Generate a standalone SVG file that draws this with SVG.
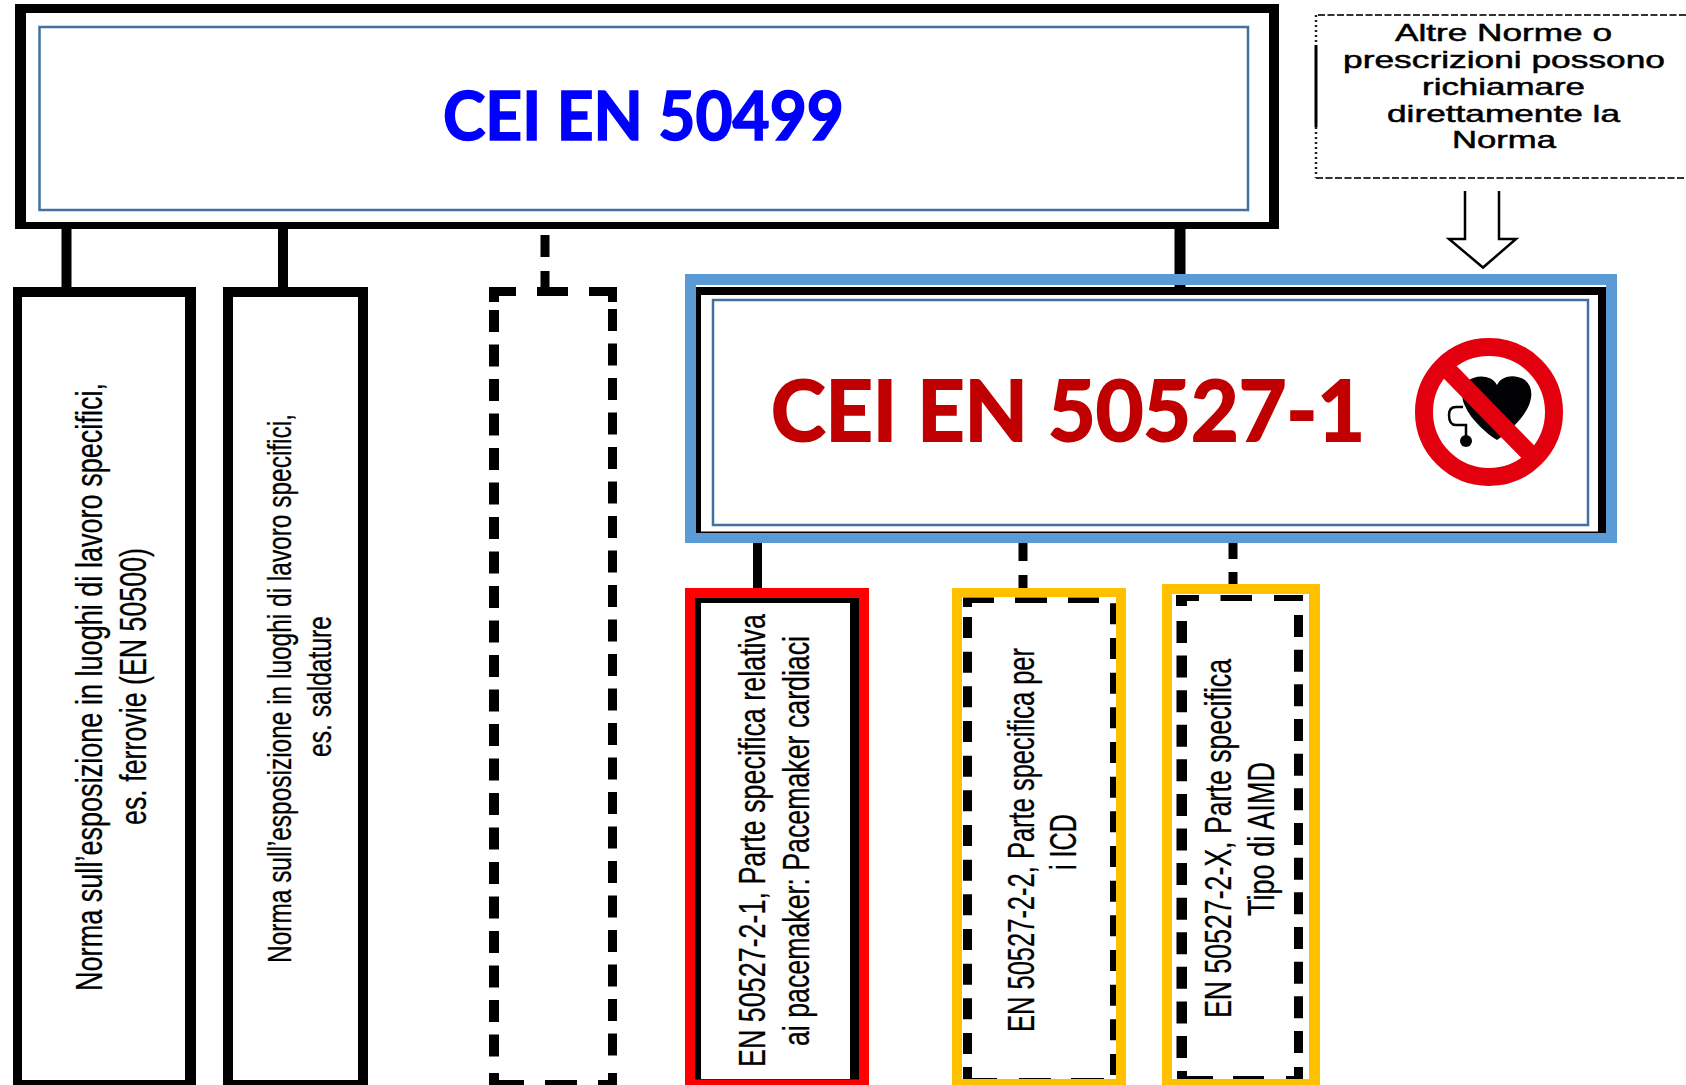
<svg xmlns="http://www.w3.org/2000/svg" width="1686" height="1085" viewBox="0 0 1686 1085">
<style>
.blk{fill:#000}
.wht{fill:#fff}
.inner{fill:none;stroke:#41719c;stroke-width:2.5}
.bar{fill:none;stroke:#000}
.v{stroke-dasharray:22 12.5}
.t{font-family:"Liberation Sans",Arial,sans-serif;font-size:37px;fill:#000;stroke:#000;stroke-width:.3}
.s{font-size:33px}
.h{font-family:Lato,"Open Sans",sans-serif;font-weight:700;stroke-width:1.6}
.n{font-family:"Liberation Sans",Arial,sans-serif;font-size:24px;fill:#000;stroke:#000;stroke-width:.5}
</style>
<rect width="1686" height="1085" fill="#fff"/>
<g id="connectors">
<path class="bar" stroke-width="10" d="M66.500 229V288M283 229V288"/>
<path class="bar" stroke-width="9" d="M545 235V257M545 271V288"/>
<path class="bar" stroke-width="11" d="M1180 229V290"/>
<path class="bar" stroke-width="9" d="M757.500 543V590"/>
<path class="bar" stroke-width="9" d="M1023 543V561M1023 575V590M1233 543V559M1233 572V586"/>
</g>
<g id="node-cei-en-50499">
<path class="blk" fill-rule="evenodd" d="M15 4H1279V229H15ZM26 13V222H1269V13Z"/>
<rect class="inner" x="39.500" y="27" width="1208.500" height="183"/>
<text class="h" x="443" y="140" font-size="66" fill="#0000ff" stroke="#0000ff" textLength="401" lengthAdjust="spacingAndGlyphs">CEI EN 50499</text>
</g>
<g id="node-altre-norme">
<path fill="none" stroke="#333" stroke-width="2" stroke-dasharray="7 2.500" d="M1686 15H1316M1316 178H1686"/>
<path fill="none" stroke="#222" stroke-width="2.500" stroke-dasharray="2 3" d="M1316 15V45M1316 127V178"/>
<path fill="none" stroke="#000" stroke-width="3" d="M1316 45V127"/>
<text class="n" x="1395" y="41" textLength="217" lengthAdjust="spacingAndGlyphs">Altre Norme o</text>
<text class="n" x="1343" y="68" textLength="322" lengthAdjust="spacingAndGlyphs">prescrizioni possono</text>
<text class="n" x="1422" y="95" textLength="163" lengthAdjust="spacingAndGlyphs">richiamare</text>
<text class="n" x="1387" y="122" textLength="233" lengthAdjust="spacingAndGlyphs">direttamente la</text>
<text class="n" x="1452" y="148" textLength="104" lengthAdjust="spacingAndGlyphs">Norma</text>
<path fill="#fff" stroke="#000" stroke-width="2.500" d="M1465 191V239H1449L1483 267.500L1516 239H1499V191"/>
</g>
<g id="node-norma-ferrovie">
<path class="blk" fill-rule="evenodd" d="M13 287H196V1085H13ZM22 297V1080H185V297Z"/>
<text class="t" transform="translate(101.500 991) rotate(-90)" textLength="608" lengthAdjust="spacingAndGlyphs">Norma sull’esposizione in luoghi di lavoro specifici,</text>
<text class="t" transform="translate(145.500 825) rotate(-90)" textLength="277" lengthAdjust="spacingAndGlyphs">es. ferrovie (EN 50500)</text>
</g>
<g id="node-norma-saldature">
<path class="blk" fill-rule="evenodd" d="M223 287H368V1085H223ZM233 297V1080H358V297Z"/>
<text class="t s" transform="translate(291 963) rotate(-90)" textLength="549" lengthAdjust="spacingAndGlyphs">Norma sull’esposizione in luoghi di lavoro specifici,</text>
<text class="t s" transform="translate(331 757) rotate(-90)" textLength="141" lengthAdjust="spacingAndGlyphs">es. saldature</text>
</g>
<g id="node-dashed-empty">
<path class="blk" d="M489 287H516V296H499V302H489ZM537 287H568V296H537ZM589 287H617V302H608V296H589ZM489 1073H499V1080H524V1085H489ZM545 1080H577V1085H545ZM598 1080H608V1073H617V1085H598Z"/>
<path class="bar v" stroke-width="10" d="M494 310V1066"/>
<path class="bar v" stroke-width="9" d="M612.500 309V1066"/>
</g>
<g id="node-cei-en-50527-1">
<path fill="#5b9bd5" fill-rule="evenodd" d="M685 274H1617V543H685ZM696 285V533H1606V285Z"/>
<rect class="blk" x="696" y="287" width="910" height="246"/>
<rect class="wht" x="701" y="295" width="897" height="236.500"/>
<rect class="inner" x="713" y="300" width="875" height="225"/>
<text class="h" x="771" y="441" font-size="85" fill="#c00000" stroke="#c00000" style="stroke-width:2" textLength="594" lengthAdjust="spacingAndGlyphs">CEI EN 50527-1</text>
<g id="sign">
<path fill="#020204" d="M1497 385C1492 375 1476 374 1468 381C1461 388 1461 398 1465 406C1471 420 1487 434 1497 440C1508 433 1524 418 1529 405C1533 395 1532 386 1525 380C1515 374 1502 375 1497 385Z"/>
<path fill="none" stroke="#020204" stroke-width="2.500" d="M1463 407H1456Q1449 407 1449 415Q1449 425 1456 425H1466V441"/>
<circle cx="1466" cy="441" r="6" fill="#020204"/>
<circle cx="1489" cy="412" r="65" fill="none" stroke="#e2000f" stroke-width="18"/>
<path fill="none" stroke="#e2000f" stroke-width="18" d="M1446 368L1532 456"/>
</g>
</g>
<g id="node-en-50527-2-1">
<rect x="685" y="588" width="184" height="497" fill="#ff0000"/>
<rect class="blk" x="695" y="598" width="164" height="481.500"/>
<rect class="wht" x="701" y="603" width="149" height="476"/>
<text class="t" transform="translate(765 1067) rotate(-90)" textLength="453" lengthAdjust="spacingAndGlyphs">EN 50527-2-1, Parte specifica relativa</text>
<text class="t" transform="translate(809 1046) rotate(-90)" textLength="410" lengthAdjust="spacingAndGlyphs">ai pacemaker: Pacemaker cardiaci</text>
</g>
<g id="node-en-50527-2-2">
<rect x="952" y="588" width="174" height="497" fill="#ffc000"/>
<rect class="wht" x="962" y="597" width="154" height="482"/>
<path class="blk" d="M963 597.500H994V603H972V607H963ZM1015 597.500H1047V603H1015ZM1068 597.500H1099V603H1068ZM963 1067H972V1078H997V1079H963ZM1019 1078H1051V1079H1019ZM1071 1078H1104V1079H1071Z"/>
<path class="bar" stroke-width="9" stroke-dasharray="21 13.670" d="M967.500 617V1055"/>
<path class="bar" stroke-width="6" stroke-dasharray="21 13.670" d="M1113 603.300V1076"/>
<text class="t" transform="translate(1034 1032) rotate(-90)" textLength="384" lengthAdjust="spacingAndGlyphs">EN 50527-2-2, Parte specifica per</text>
<text class="t" transform="translate(1076 870) rotate(-90)" textLength="56" lengthAdjust="spacingAndGlyphs">i ICD</text>
</g>
<g id="node-en-50527-2-x">
<rect x="1162" y="584" width="158" height="501" fill="#ffc000"/>
<rect class="wht" x="1172" y="594" width="137" height="485"/>
<path class="blk" d="M1176 595H1199V601H1187V606H1176ZM1220.500 595H1252V601H1220.500ZM1274 595H1303V601H1274ZM1177 1071H1187V1076H1213V1079H1177ZM1233 1076H1264V1079H1233ZM1286 1076H1294V1067H1303V1079H1286Z"/>
<path class="bar" stroke-width="10.500" stroke-dasharray="22 12.580" d="M1181.750 621V1058"/>
<path class="bar" stroke-width="9" stroke-dasharray="22 12.670" d="M1298.500 615V1054"/>
<text class="t" transform="translate(1231 1018) rotate(-90)" textLength="359" lengthAdjust="spacingAndGlyphs">EN 50527-2-X, Parte specifica</text>
<text class="t" transform="translate(1274 916) rotate(-90)" textLength="154" lengthAdjust="spacingAndGlyphs">Tipo di AIMD</text>
</g>
</svg>
